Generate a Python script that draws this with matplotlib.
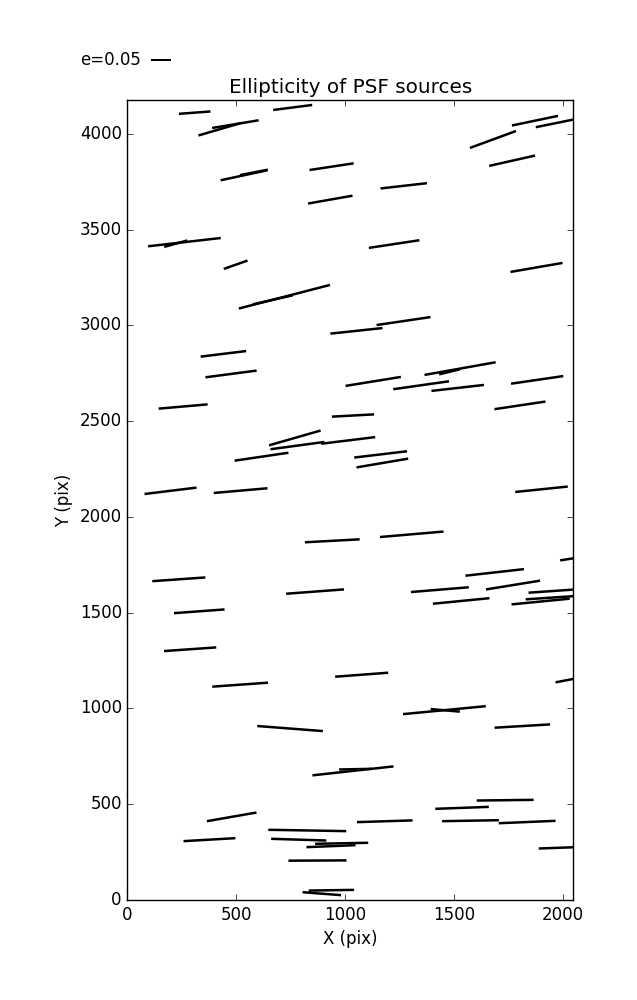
import numpy as np
import matplotlib
matplotlib.use("Agg")
import matplotlib.pyplot as plt

# --- whisker data: centre (pix), ellipticity e, position angle (deg) ---
x_pix = [309, 759, 423, 496, 1679, 1872, 1988, 535, 581, 938, 1767, 1269, 932, 262, 222, 497,
         1225, 1879, 721, 668, 1052, 1268, 441, 476, 256, 1129, 1036, 769, 781, 1014, 616, 198,
         520, 1349, 1528, 1479, 1517, 1882, 1803, 1163, 1171, 1902, 941, 236, 862, 330, 288, 518,
         1076, 1306, 2101, 1687, 1435, 1771, 1968, 1956, 1898, 1533, 2090, 1456, 1460, 747, 1814,
         1036, 1047, 479, 1735, 1537, 377, 826, 787, 1182, 1576, 1836, 984, 935, 873, 2016, 893, 937]
y_pix = [4110, 4137, 4023, 4050, 3970, 4068, 4060, 3783, 3798, 3828, 3859, 3728, 3656, 3434, 3426,
         3316, 3424, 3302, 3149, 3133, 2971, 3022, 2851, 2746, 2576, 2707, 2529, 2412, 2372, 2399,
         2314, 2136, 2137, 2687, 2774, 2757, 2673, 2715, 2582, 2326, 2281, 2144, 1875, 1674, 1610,
         1507, 1309, 1124, 1176, 1909, 1793, 1710, 1620, 1644, 1614, 1579, 1558, 1561, 1163, 991,
         990, 895, 908, 674, 683, 434, 521, 481, 315, 363, 315, 411, 414, 407, 296, 281, 206, 274,
         33, 51]
ellip = [0.078, 0.097, 0.108, 0.116, 0.121, 0.116, 0.123, 0.117, 0.070, 0.110,
         0.116, 0.115, 0.111, 0.180, 0.059, 0.062, 0.126, 0.130, 0.232, 0.101,
         0.129, 0.134, 0.113, 0.127, 0.121, 0.138, 0.104, 0.132, 0.134, 0.134,
         0.134, 0.129, 0.133, 0.139, 0.178, 0.052, 0.130, 0.130, 0.127, 0.131,
         0.129, 0.130, 0.135, 0.131, 0.143, 0.125, 0.129, 0.138, 0.131, 0.157,
         0.123, 0.145, 0.143, 0.135, 0.135, 0.136, 0.144, 0.140, 0.135, 0.205,
         0.072, 0.162, 0.137, 0.201, 0.080, 0.124, 0.140, 0.132, 0.128, 0.192,
         0.136, 0.137, 0.140, 0.140, 0.131, 0.121, 0.143, 0.136, 0.095, 0.112]
angle = [4.3, 7.3, 16.3, 9.4, 20.2, 11.8, 11.5, 12.1, 11.1, 8.6, 12.7, 6.5, 10.0, 6.5, 15.5, 19.5,
         8.6, 9.8, 14.5, 12.7, 6.1, 8.4, 7.0, 7.5, 5.0, 9.2, 3.1, 16.0, 7.7, 7.0, 8.4, 7.0, 5.0,
         8.1, 10.1, 13.6, 6.5, 8.3, 8.5, 6.8, 9.6, 5.9, 3.1, 4.0, 4.3, 4.2, 4.0, 4.1, 4.3, 4.9,
         8.9, 6.4, 4.7, 9.2, 4.0, 3.8, 5.6, 5.6, 10.8, 5.5, -5.1, -4.4, 3.4, 6.3, 1.2, 9.9, 0.7,
         2.1, 3.3, -1.0, -1.8, 1.8, 1.0, 2.4, 1.1, 2.3, 0.3, 2.1, -4.4, 0.9]

ccd_width = 2048
ccd_height = 4176
key_e = 0.05

plt.style.use('classic')

fig = plt.figure(figsize=(6.37, 10.0), dpi=100, facecolor='white')
ax = fig.add_subplot(111)
fig.subplots_adjust(left=0.2, right=0.9, bottom=0.1, top=0.9)

e = np.array(ellip)
th = np.radians(angle)
u = e * np.cos(th)
v = e * np.sin(th)

# headless arrows -> whiskers centred on each source
q = ax.quiver(x_pix, y_pix, u, v, pivot='middle', color='k',
              headwidth=0, headlength=0, headaxislength=0,
              angles='uv', scale_units='inches', scale=0.2463,
              units='inches', width=0.025)
ax.quiverkey(q, 0.237, 0.94, key_e, 'e=%.2f' % key_e, labelpos='W',
             coordinates='figure', fontproperties={'size': 12})

ax.set_xlim(0, ccd_width)
ax.set_ylim(0, ccd_height)
ax.set_title("Ellipticity of PSF sources")
ax.set_xlabel("X (pix)")
ax.set_ylabel("Y (pix)")

plt.savefig("out.png", dpi=100, facecolor='white')
